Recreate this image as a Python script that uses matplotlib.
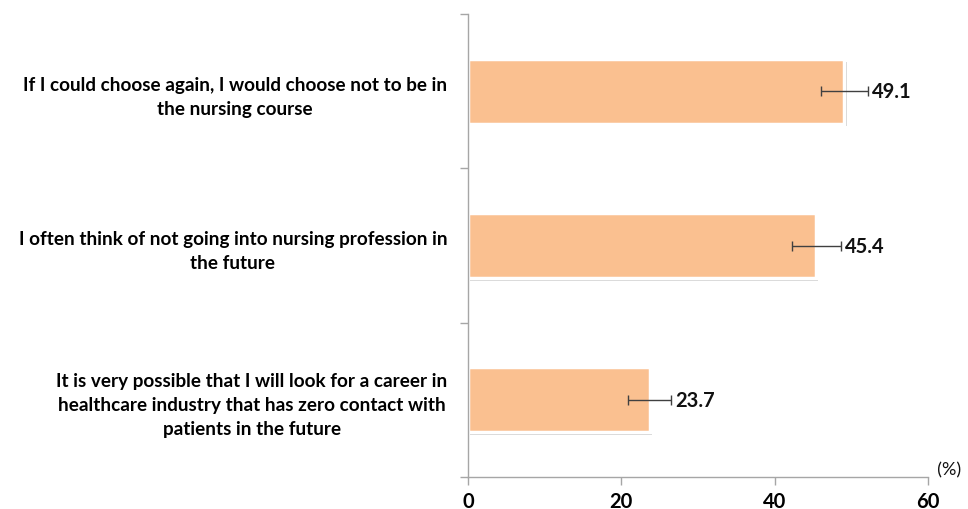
import matplotlib
matplotlib.use("Agg")
import matplotlib.pyplot as plt
import matplotlib.transforms as mtransforms

categories = [
    "If I could choose again, I would choose not to be in\nthe nursing course",
    "I often think of not going into nursing profession in\nthe future",
    "It is very possible that I will look for a career in\nhealthcare industry that has zero contact with\npatients in the future",
]
values = [49.1, 45.4, 23.7]
errors = [3.1, 3.2, 2.8]
xticks = [0, 20, 40, 60]

plt.rcParams['font.family'] = ['Lato', 'DejaVu Sans']
plt.rcParams['font.weight'] = 'bold'

fig = plt.figure(figsize=(9.68, 5.10), dpi=100)
ax = fig.add_axes([0.4835, 0.0627, 0.4752, 0.9078])

ypos = list(range(len(values)))
bar_color = '#FAC090'
shadow = mtransforms.offset_copy(ax.transData, fig=fig, x=1.5, y=-2.0, units='points')
ax.barh(ypos, values, height=0.42, color='#9a9a9a', alpha=0.45, transform=shadow, zorder=1)
ax.barh(ypos, values, height=0.42, color=bar_color, edgecolor='white', linewidth=2.5, zorder=2)
ax.errorbar(values, ypos, xerr=errors, fmt='none', ecolor='#404040', elinewidth=1.0,
            capsize=3.5, capthick=1.0, zorder=3)
for y, v, e in zip(ypos, values, errors):
    ax.annotate(f"{v:.1f}", xy=(v + e, y), xytext=(3, 0), textcoords='offset points',
                ha='left', va='center', fontsize=14.5, fontweight='bold', color='#111111')

ax.set_xlim(0, 60)
ax.set_ylim(len(values) - 0.5, -0.5)
ax.set_xticks(xticks)
ax.set_xticklabels([str(t) for t in xticks], fontsize=14.5, fontweight='bold')
ax.set_yticks([i - 0.5 for i in range(len(values) + 1)])
ax.set_yticklabels([])
ax.set_yticks(ypos, minor=True)
ax.set_yticklabels(categories, minor=True, fontsize=13.6, fontweight='bold',
                   ha='right', multialignment='center', linespacing=1.5)
ax.tick_params(axis='y', which='minor', length=0, pad=15)
ax.tick_params(axis='y', which='major', length=6, color='#a6a6a6', width=1)
ax.tick_params(axis='x', length=6, color='#a6a6a6', width=1, pad=4)

for s in ['top', 'right']:
    ax.spines[s].set_visible(False)
for s in ['left', 'bottom']:
    ax.spines[s].set_color('#a6a6a6')
    ax.spines[s].set_linewidth(1)

ax.text(1.0, 0.0, "  (%)", transform=ax.transAxes, ha='left', va='bottom',
        fontsize=13, fontweight='normal', color='#111111')

fig.savefig("out.png", dpi=100, facecolor='white')
